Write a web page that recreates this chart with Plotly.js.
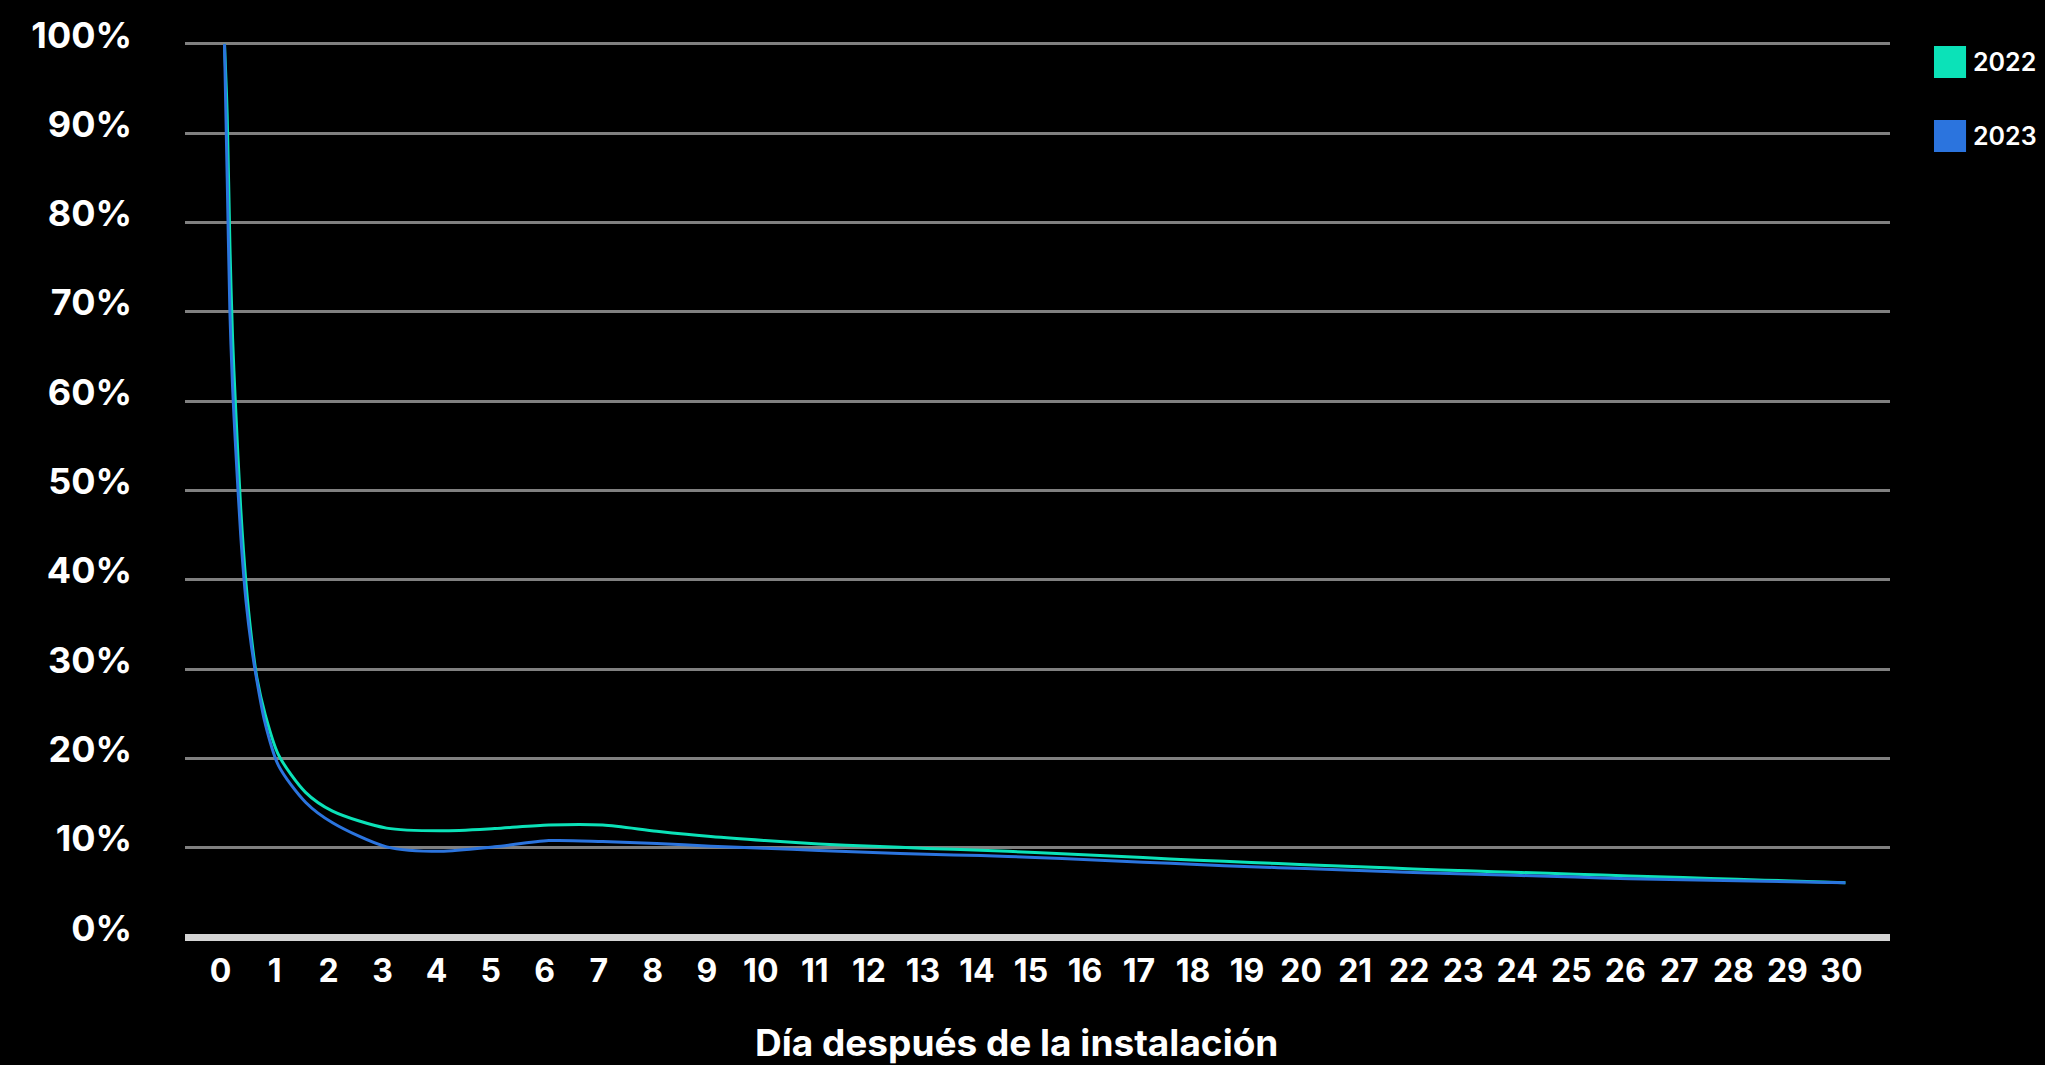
<!DOCTYPE html>
<html>
<head>
<meta charset="utf-8">
<script src="https://cdn.plot.ly/plotly-3.0.1.min.js"></script>
<style>
  html, body { margin: 0; padding: 0; background: #000; }
  #chart { width: 2045px; height: 1065px; }
</style>
</head>
<body>
<div id="chart"></div>
<script>
// Day after installation (fractional points describe the steep first day)
const days = [0, 0.05, 0.1, 0.15, 0.2, 0.3, 0.4, 0.5, 0.6, 0.75, 1, 1.5, 2, 3, 4, 5, 6, 7, 8, 9, 10,
              11, 12, 13, 14, 15, 16, 17, 18, 19, 20, 21, 22, 23, 24, 25, 26, 27, 28, 29, 30];

// Retention (%)
const retention2022 = [100, 92, 77.5, 67, 60, 48, 39.5, 33.5, 29, 25, 20.4, 16.2, 14.1, 12.2, 11.9, 12.15, 12.55, 12.55, 11.85, 11.25, 10.8,
                       10.43, 10.17, 9.93, 9.72, 9.47, 9.18, 8.9, 8.61, 8.35, 8.11, 7.87, 7.63, 7.42, 7.23, 7.04, 6.85, 6.66, 6.47, 6.28, 6.09];
const retention2023 = [100, 85, 70, 61.5, 55.5, 45, 37.5, 32.5, 28.7, 24, 19.2, 15.1, 12.8, 10.1, 9.6, 10.1, 10.8, 10.7, 10.47, 10.18, 9.94,
                       9.7, 9.46, 9.27, 9.12, 8.92, 8.65, 8.39, 8.12, 7.88, 7.67, 7.45, 7.24, 7.06, 6.89, 6.72, 6.54, 6.42, 6.31, 6.2, 6.09];

const seriesNames = ['2022', '2023'];
const seriesColors = ['#0BE2B8', '#2B74DE'];

const xTickVals = [0, 1, 2, 3, 4, 5, 6, 7, 8, 9, 10, 11, 12, 13, 14, 15, 16, 17, 18, 19, 20,
                   21, 22, 23, 24, 25, 26, 27, 28, 29, 30];
const yTickVals = [0, 10, 20, 30, 40, 50, 60, 70, 80, 90, 100];
const yTickText = ['0%', '10%', '20%', '30%', '40%', '50%', '60%', '70%', '80%', '90%', '100%'];
const xTitle = 'Día después de la instalación';

const FONT = 'Inter, "Noto Sans", "DejaVu Sans", sans-serif';

const traces = [retention2022, retention2023].map((vals, i) => ({
  type: 'scatter',
  mode: 'lines',
  name: seriesNames[i],
  x: days,
  y: vals,
  line: { color: seriesColors[i], width: 3, shape: 'spline', smoothing: 0.8 },
  showlegend: false,
  hoverinfo: 'skip'
}));

// Legend drawn as square swatches + labels (paper coordinates)
const legendTops = [0.9879, 0.9066];
const shapes = [];
const annotations = [];
seriesNames.forEach((name, i) => {
  shapes.push({
    type: 'rect', xref: 'paper', yref: 'paper',
    x0: 1.0258, x1: 1.0446, y0: legendTops[i] - 0.0351, y1: legendTops[i],
    fillcolor: seriesColors[i], line: { width: 0 }
  });
  annotations.push({
    xref: 'paper', yref: 'paper', x: 1.0478, y: legendTops[i] - 0.0176,
    xanchor: 'left', yanchor: 'middle', showarrow: false,
    text: name,
    font: { family: FONT, size: 25, color: '#ffffff', weight: 600 }
  });
});

// X-axis title, placed where the reference draws it
annotations.push({
  xref: 'paper', yref: 'paper', x: 0.4874, y: -0.1055,
  xanchor: 'center', yanchor: 'middle', showarrow: false,
  text: xTitle,
  font: { family: FONT, size: 37, color: '#ffffff', weight: 700 }
});

const layout = {
  width: 2045,
  height: 1065,
  paper_bgcolor: '#000000',
  plot_bgcolor: '#000000',
  margin: { l: 185, r: 155, t: 35, b: 119.4 },
  showlegend: false,
  xaxis: {
    range: [-0.731, 30.825],
    tickvals: xTickVals,
    ticktext: xTickVals.map(String),
    showgrid: false,
    zeroline: false,
    showline: false,
    ticks: '',
    ticklabelstandoff: 3,
    ticklabelshift: -4,
    tickfont: { family: FONT, size: 32, color: '#ffffff', weight: 700 },
    fixedrange: true
  },
  yaxis: {
    range: [-1, 101],
    tickvals: yTickVals,
    ticktext: yTickText,
    showgrid: true,
    gridcolor: '#808080',
    gridwidth: 3,
    zeroline: true,
    zerolinecolor: '#D4D4D4',
    zerolinewidth: 7,
    showline: false,
    ticks: '',
    ticklabelstandoff: 52,
    ticklabelshift: -9,
    tickfont: { family: FONT, size: 36, color: '#ffffff', weight: 700 },
    fixedrange: true
  },
  shapes: shapes,
  annotations: annotations
};

Plotly.newPlot('chart', traces, layout, { staticPlot: true, displayModeBar: false });
</script>
</body>
</html>
